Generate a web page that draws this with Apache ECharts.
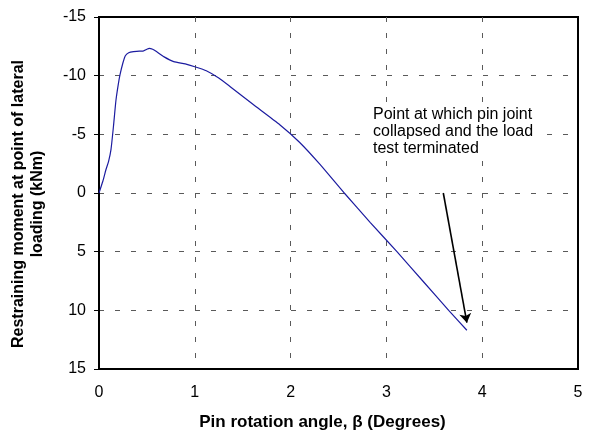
<!DOCTYPE html>
<html>
<head>
<meta charset="utf-8">
<script src="https://cdn.jsdelivr.net/npm/echarts@6/dist/echarts.min.js"></script>
<style>
  html, body { margin: 0; padding: 0; background: #fff; }
  #chart { width: 592px; height: 438px; }
</style>
</head>
<body>
<div id="chart"></div>
<script>
// Pin rotation angle (degrees) and restraining moment (kNm) from the lateral load test
var rotation = [0, 0.04, 0.073, 0.1, 0.125, 0.15, 0.177, 0.2, 0.22, 0.25, 0.275, 0.31, 0.36, 0.42, 0.46, 0.5, 0.525, 0.56, 0.6, 0.68, 0.78, 0.9, 1.0, 1.12, 1.25, 1.37, 1.6, 1.89, 2.09, 2.3, 2.56, 2.83, 3.11, 3.38, 3.65, 3.84];
var moment = [0, -1.0, -2.0, -2.7, -3.7, -5.6, -7.9, -9.2, -10.1, -11.1, -11.7, -11.95, -12.05, -12.1, -12.1, -12.25, -12.33, -12.25, -12.05, -11.6, -11.2, -11.0, -10.76, -10.42, -9.8, -9.06, -7.6, -5.8, -4.35, -2.5, 0, 2.5, 5.0, 7.5, 10.0, 11.7];

// Axis ticks
var xTicks = [0, 1, 2, 3, 4, 5];
var yTicks = [-15, -10, -5, 0, 5, 10, 15];

// Annotation arrow pointing to the collapse point
var arrowFrom = [3.594, 0.0];
var arrowTo = [3.84, 11.05];
var noteLines = ['Point at which pin joint', 'collapsed and the load', 'test terminated'];

var chart = echarts.init(document.getElementById('chart'));
var font = 'Arial, "Liberation Sans", sans-serif';
var gridDash = { color: '#5a5a5a', width: 1, type: [5, 11] };

var option = {
  animation: false,
  backgroundColor: '#ffffff',
  grid: {
    left: 99, top: 17, right: 14, bottom: 69,
    show: true, borderColor: '#000', borderWidth: 2, backgroundColor: 'transparent'
  },
  xAxis: {
    type: 'value',
    min: xTicks[0], max: xTicks[xTicks.length - 1], interval: 1,
    name: 'Pin rotation angle, β (Degrees)',
    nameLocation: 'middle', nameGap: 45,
    nameTextStyle: { fontFamily: font, fontSize: 17, fontWeight: 'bold', color: '#000', padding: [0, 32, 0, 0] },
    axisLine: { show: true, onZero: false, lineStyle: { color: '#000', width: 2 } },
    axisTick: { show: false },
    axisLabel: { fontFamily: font, fontSize: 16, color: '#000', margin: 16 },
    splitLine: { show: true, showMinLine: false, showMaxLine: false, lineStyle: gridDash }
  },
  yAxis: {
    type: 'value', inverse: true,
    min: yTicks[0], max: yTicks[yTicks.length - 1], interval: 5,
    name: 'Restraining moment at point of lateral\nloading (kNm)',
    nameLocation: 'middle', nameGap: 52, nameRotate: 90,
    nameTextStyle: { fontFamily: font, fontSize: 16, fontWeight: 'bold', color: '#000', lineHeight: 19, padding: [0, 22, 0, 0] },
    axisLine: { show: true, onZero: false, lineStyle: { color: '#000', width: 2 } },
    axisTick: { show: true, length: 5, lineStyle: { color: '#000' } },
    axisLabel: { fontFamily: font, fontSize: 16, color: '#000', margin: 13 },
    splitLine: { show: true, showMinLine: false, showMaxLine: false, lineStyle: gridDash }
  },
  graphic: [{
    type: 'text', left: 369, top: 103, z: 10,
    style: {
      text: noteLines.join('\n'), font: '16px ' + font, fill: '#000', lineHeight: 17,
      backgroundColor: '#fff', padding: [3, 4, 3, 4]
    }
  }],
  series: [
    {
      type: 'line',
      data: rotation.map(function (r, i) { return [r, moment[i]]; }),
      showSymbol: false, smooth: 0.2,
      lineStyle: { color: '#1c1ca0', width: 1.2 }
    },
    {
      type: 'lines',
      coordinateSystem: 'cartesian2d',
      symbol: ['none', 'arrow'], symbolSize: [6, 9],
      lineStyle: { color: '#000', width: 1.6, opacity: 1 },
      data: [{ coords: [arrowFrom, arrowTo] }]
    }
  ]
};
chart.setOption(option);
</script>
</body>
</html>
